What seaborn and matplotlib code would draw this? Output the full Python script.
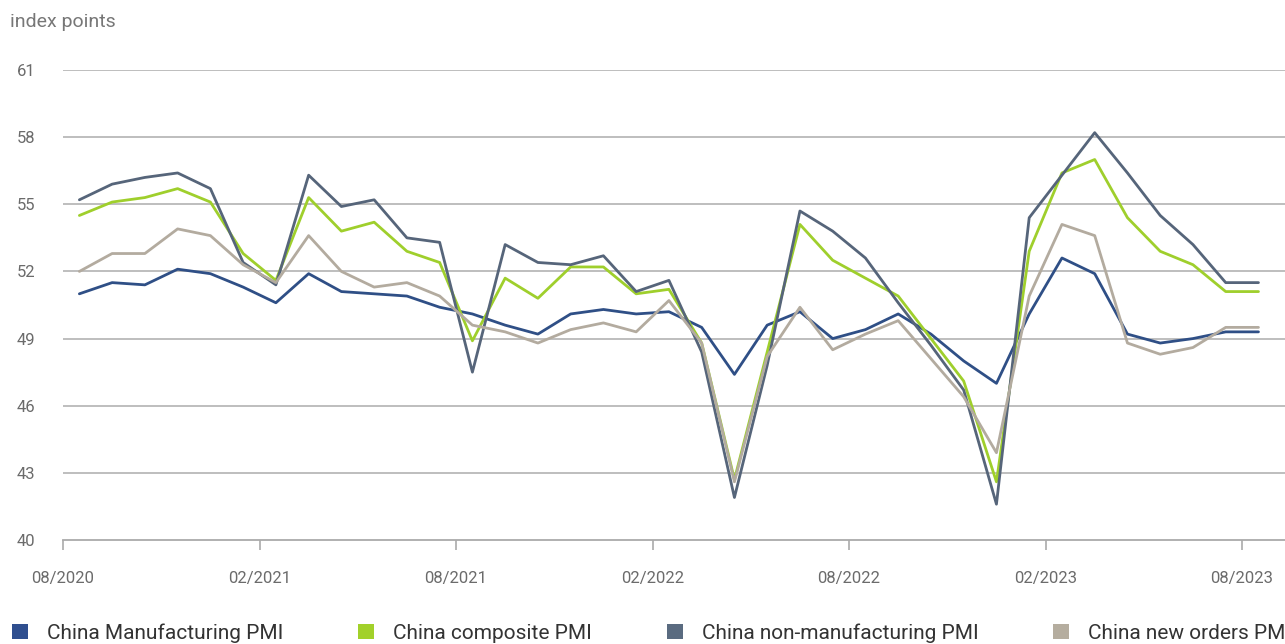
import matplotlib
matplotlib.use("Agg")
import matplotlib.pyplot as plt
from matplotlib.patches import Patch
import numpy as np
import pandas as pd
import seaborn as sns

# Monthly readings, 08/2020 .. 08/2023
months = pd.period_range("2020-08", "2023-08", freq="M").strftime("%m/%Y").tolist()

manufacturing = [51.0, 51.5, 51.4, 52.1, 51.9, 51.3, 50.6, 51.9, 51.1, 51.0, 50.9, 50.4,
                 50.1, 49.6, 49.2, 50.1, 50.3, 50.1, 50.2, 49.5, 47.4, 49.6, 50.2, 49.0,
                 49.4, 50.1, 49.2, 48.0, 47.0, 50.1, 52.6, 51.9, 49.2, 48.8, 49.0, 49.3, 49.3]
composite = [54.5, 55.1, 55.3, 55.7, 55.1, 52.8, 51.6, 55.3, 53.8, 54.2, 52.9, 52.4,
             48.9, 51.7, 50.8, 52.2, 52.2, 51.0, 51.2, 48.8, 42.7, 48.4, 54.1, 52.5,
             51.7, 50.9, 49.0, 47.1, 42.6, 52.9, 56.4, 57.0, 54.4, 52.9, 52.3, 51.1, 51.1]
non_manufacturing = [55.2, 55.9, 56.2, 56.4, 55.7, 52.4, 51.4, 56.3, 54.9, 55.2, 53.5, 53.3,
                     47.5, 53.2, 52.4, 52.3, 52.7, 51.1, 51.6, 48.4, 41.9, 47.8, 54.7, 53.8,
                     52.6, 50.6, 48.7, 46.7, 41.6, 54.4, 56.3, 58.2, 56.4, 54.5, 53.2, 51.5, 51.5]
new_orders = [52.0, 52.8, 52.8, 53.9, 53.6, 52.3, 51.5, 53.6, 52.0, 51.3, 51.5, 50.9,
              49.6, 49.3, 48.8, 49.4, 49.7, 49.3, 50.7, 48.8, 42.6, 48.2, 50.4, 48.5,
              49.2, 49.8, 48.1, 46.4, 43.9, 50.9, 54.1, 53.6, 48.8, 48.3, 48.6, 49.5, 49.5]

series_names = ["China Manufacturing PMI", "China composite PMI",
                "China non-manufacturing PMI", "China new orders PMI"]
series_values = [manufacturing, composite, non_manufacturing, new_orders]
line_colors = ["#2f4f86", "#9fcf2c", "#56657a", "#b3ab9f"]
legend_colors = ["#2f4f8f", "#a2d12a", "#5a6b80", "#b5ad9f"]

tick_months = ["08/2020", "02/2021", "08/2021", "02/2022", "08/2022", "02/2023", "08/2023"]
y_ticks = [40, 43, 46, 49, 52, 55, 58, 61]

# Long-form table; each month is drawn at the middle of its slot
frames = []
for name, vals in zip(series_names, series_values):
    frames.append(pd.DataFrame({"pos": np.arange(len(months)) + 0.5,
                                "value": vals, "series": name}))
df = pd.concat(frames, ignore_index=True)

sns.set_theme(style="white")
plt.rcParams["font.family"] = ["Roboto", "DejaVu Sans"]

fig = plt.figure(figsize=(12.85, 6.44), dpi=100)
ax = fig.add_axes([63 / 1285, 1 - 540 / 644, 1 - 63 / 1285, (540 - 70) / 644])

sns.lineplot(data=df, x="pos", y="value", hue="series", hue_order=series_names,
             palette=line_colors, linewidth=2.0, legend=False, ax=ax, zorder=3)

ax.set_ylim(40, 61)
ax.set_xlim(0, 37.31)
ax.set_yticks(y_ticks)
ax.set_yticklabels([str(v) for v in y_ticks])
ax.set_xticks([months.index(m) for m in tick_months])
ax.set_xticklabels(tick_months)
ax.set_xlabel("")
ax.set_ylabel("")

for v in y_ticks[1:]:
    ax.axhline(v, color="#b9b9b9", linewidth=1.3, zorder=1)

for side in ["top", "right", "left"]:
    ax.spines[side].set_visible(False)
ax.spines["bottom"].set_color("#aaaaaa")
ax.spines["bottom"].set_linewidth(1.3)

ax.tick_params(axis="y", length=0, pad=20, labelsize=12, labelcolor="#6b6b6b")
ax.tick_params(axis="x", direction="out", length=7, width=1.2, color="#aaaaaa",
               pad=15, labelsize=12, labelcolor="#6b6b6b", bottom=True)

fig.text(10 / 1285, 1 - 22 / 644, "index points", fontsize=14, color="#777777",
         ha="left", va="center")

handles = [Patch(facecolor=c, edgecolor="none") for c in legend_colors]
fig.legend(handles, series_names, loc="center left", ncol=4,
           bbox_to_anchor=(12 / 1285, 1 - 633 / 644), frameon=False,
           fontsize=15, labelcolor="#333333", handlelength=0.77, handleheight=0.77,
           handletextpad=0.9, columnspacing=3.6, borderaxespad=0, borderpad=0)

fig.savefig("out.png", dpi=100, facecolor="white")
